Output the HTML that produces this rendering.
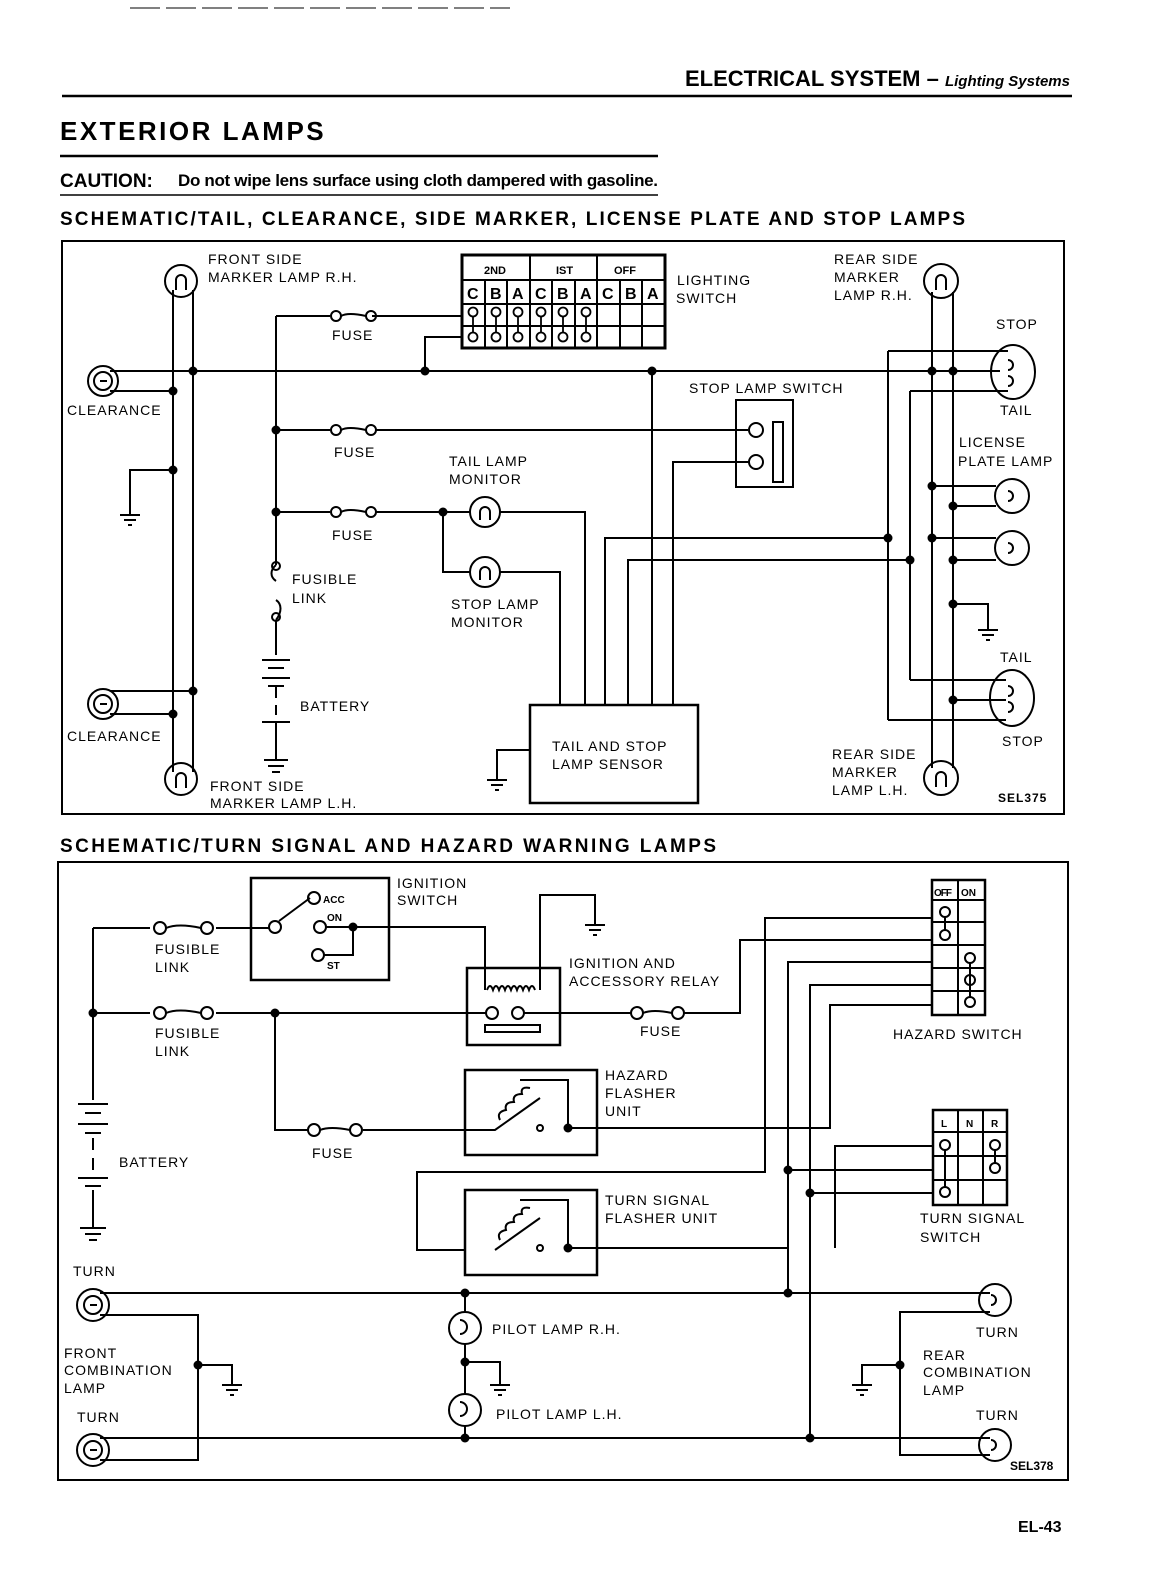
<!DOCTYPE html>
<html><head><meta charset="utf-8"><style>
html,body{margin:0;padding:0;background:#fff;}
svg{display:block;}
text{font-family:"Liberation Sans",sans-serif;fill:#000;}
.l{font-size:14px;letter-spacing:1px;}
</style></head><body>
<svg width="1162" height="1586" viewBox="0 0 1162 1586" xmlns="http://www.w3.org/2000/svg">
<g stroke="#000" fill="none" stroke-width="2">
<line x1="130" y1="8" x2="510" y2="8" stroke-width="1" stroke-dasharray="30,6"/>
<line x1="62" y1="96" x2="1072" y2="96" stroke-width="2.5"/>
<line x1="60" y1="156" x2="658" y2="156" stroke-width="2.5"/>
<line x1="60" y1="195" x2="658" y2="195" stroke-width="1.5"/>
<rect x="62" y="241" width="1002" height="573"/>
<rect x="58" y="862" width="1010" height="618"/>
</g>
<text x="1070" y="86" text-anchor="end" font-size="22" font-weight="bold" font-stretch="condensed">ELECTRICAL SYSTEM – <tspan font-size="15" font-style="italic" font-weight="bold">Lighting Systems</tspan></text>
<text x="60" y="140" font-size="26" font-weight="bold" letter-spacing="2.5">EXTERIOR LAMPS</text>
<text x="60" y="187" font-size="19" font-weight="bold">CAUTION:</text>
<text x="178" y="186" font-size="17" font-weight="bold" textLength="480">Do not wipe lens surface using cloth dampered with gasoline.</text>
<text x="60" y="225" font-size="19" font-weight="bold" textLength="905">SCHEMATIC/TAIL, CLEARANCE, SIDE MARKER, LICENSE PLATE AND STOP LAMPS</text>
<text x="60" y="852" font-size="19" font-weight="bold" textLength="656">SCHEMATIC/TURN SIGNAL AND HAZARD WARNING LAMPS</text>
<text x="1018" y="1532" font-size="16" font-weight="bold">EL-43</text>

<!-- TOP DIAGRAM -->
<g stroke="#000" fill="none" stroke-width="2">
<circle cx="181" cy="281" r="16"/><path d="M176 290 v-10 a5 5 0 0 1 10 0 v10"/>
<circle cx="181" cy="779" r="16"/><path d="M176 788 v-10 a5 5 0 0 1 10 0 v10"/>
<line x1="173" y1="290" x2="173" y2="772"/><line x1="193" y1="290" x2="193" y2="772"/>
<circle cx="103" cy="381" r="15"/><circle cx="103" cy="381" r="9"/><path d="M100 381 h7"/>
<path d="M110 371 H1000 M110 391 H173"/>
<circle cx="103" cy="704" r="15"/><circle cx="103" cy="704" r="9"/><path d="M100 704 h7"/>
<path d="M110 691 H193 M110 714 H173"/>
<path d="M173 470 H130 V515 M120 515 h20 M124 520 h12 M128 525 h4"/>
<path d="M276 316 V565 M276 620 V655"/>
<path d="M276 565 c-6 5 -6 12 0 16 M276 600 c6 4 6 12 0 20"/>
<circle cx="276" cy="566" r="4"/><circle cx="276" cy="617" r="4"/>
<path d="M262 660 h28 M268 668 h16 M262 678 h28 M268 686 h16 M276 686 v12 M276 705 v10 M262 722 h28 M276 722 V760 M264 760 h24 M268 766 h16 M272 772 h8"/>
<path d="M276 316 H330 M372 316 H462"/><circle cx="336" cy="316" r="5"/><circle cx="371" cy="316" r="5"/><path d="M341 316 q7-4 25 0"/>
<path d="M276 430 H330 M376 430 H748"/><circle cx="336" cy="430" r="5"/><circle cx="371" cy="430" r="5"/><path d="M341 430 q7-4 25 0"/>
<path d="M276 512 H330 M376 512 H470 M500 512 H585 V705"/><circle cx="336" cy="512" r="5"/><circle cx="371" cy="512" r="5"/><path d="M341 512 q7-4 25 0"/>
<circle cx="485" cy="512" r="15"/><path d="M480 520 v-8 a5 5 0 0 1 10 0 v8"/>
<path d="M443 512 V572 H470 M500 572 H560 V705"/>
<circle cx="485" cy="572" r="15"/><path d="M480 580 v-8 a5 5 0 0 1 10 0 v8"/>
<rect x="462" y="255" width="203" height="93" stroke-width="3"/>
<path d="M462 280 H665 M462 304 H665 M462 326 H665"/>
<path d="M530 255 V348 M597 255 V348 M485 280 V348 M507 280 V348 M552 280 V348 M575 280 V348 M620 280 V348 M642 280 V348"/>
<g stroke-width="1.8">
<circle cx="473" cy="312" r="4.5"/><circle cx="473" cy="337" r="4.5"/><path d="M473 316 V333"/>
<circle cx="496" cy="312" r="4.5"/><circle cx="496" cy="337" r="4.5"/><path d="M496 316 V333"/>
<circle cx="518" cy="312" r="4.5"/><circle cx="518" cy="337" r="4.5"/><path d="M518 316 V333"/>
<circle cx="541" cy="312" r="4.5"/><circle cx="541" cy="337" r="4.5"/><path d="M541 316 V333"/>
<circle cx="563" cy="312" r="4.5"/><circle cx="563" cy="337" r="4.5"/><path d="M563 316 V333"/>
<circle cx="586" cy="312" r="4.5"/><circle cx="586" cy="337" r="4.5"/><path d="M586 316 V333"/>
</g>
<path d="M462 337 H425 V371"/>
<rect x="736" y="400" width="57" height="87"/>
<circle cx="756" cy="430" r="7"/><circle cx="756" cy="462" r="7"/>
<rect x="773" y="422" width="10" height="60"/>
<path d="M749 462 H673 V705"/>
<path d="M652 371 V705 M605 705 V538 H888 M628 705 V560 H910"/>
<rect x="530" y="705" width="168" height="98" stroke-width="2.5"/>
<path d="M530 750 H497 V780 M487 780 h20 M491 785 h12 M495 790 h4"/>
<circle cx="941" cy="281" r="17"/><path d="M936 290 v-10 a5 5 0 0 1 10 0 v10"/>
<circle cx="941" cy="778" r="17"/><path d="M936 787 v-10 a5 5 0 0 1 10 0 v10"/>
<line x1="932" y1="292" x2="932" y2="768"/><line x1="953" y1="292" x2="953" y2="768"/>
<ellipse cx="1013" cy="372" rx="22" ry="27"/>
<path d="M888 351 H1008 M910 391 H1008 M888 351 V720 M910 391 V680"/>
<path d="M1008 360 a5 5 0 1 1 0 10 M1008 376 a5 5 0 1 1 0 10"/>
<circle cx="1012" cy="496" r="17"/><path d="M1008 491 a5 5 0 1 1 0 10"/>
<path d="M932 486 H996 M953 506 H996"/>
<circle cx="1012" cy="548" r="17"/><path d="M1008 543 a5 5 0 1 1 0 10"/>
<path d="M932 538 H996 M953 560 H996"/>
<path d="M953 604 H988 V630 M978 630 h20 M982 635 h12 M986 640 h4"/>
<ellipse cx="1012" cy="698" rx="22" ry="28"/>
<path d="M910 680 H1006 M953 700 H1006 M888 720 H1006"/>
<path d="M1008 686 a5 5 0 1 1 0 10 M1008 702 a5 5 0 1 1 0 10"/>
</g>
<g fill="#000">
<circle cx="193" cy="371" r="4.5"/><circle cx="173" cy="391" r="4.5"/><circle cx="173" cy="470" r="4.5"/>
<circle cx="193" cy="691" r="4.5"/><circle cx="173" cy="714" r="4.5"/>
<circle cx="276" cy="430" r="4.5"/><circle cx="276" cy="512" r="4.5"/><circle cx="443" cy="512" r="4.5"/>
<circle cx="425" cy="371" r="4.5"/><circle cx="652" cy="371" r="4.5"/>
<circle cx="932" cy="371" r="4.5"/><circle cx="953" cy="371" r="4.5"/>
<circle cx="932" cy="486" r="4.5"/><circle cx="953" cy="506" r="4.5"/>
<circle cx="932" cy="538" r="4.5"/><circle cx="953" cy="560" r="4.5"/>
<circle cx="888" cy="538" r="4.5"/><circle cx="910" cy="560" r="4.5"/>
<circle cx="953" cy="604" r="4.5"/><circle cx="953" cy="700" r="4.5"/>
</g>
<g class="l">
<text x="208" y="264">FRONT SIDE</text><text x="208" y="282">MARKER LAMP R.H.</text>
<text x="332" y="340">FUSE</text><text x="334" y="457">FUSE</text><text x="332" y="540">FUSE</text>
<text x="67" y="415">CLEARANCE</text><text x="67" y="741">CLEARANCE</text>
<text x="292" y="584">FUSIBLE</text><text x="292" y="603">LINK</text>
<text x="300" y="711">BATTERY</text>
<text x="210" y="791">FRONT SIDE</text><text x="210" y="808">MARKER LAMP L.H.</text>
<text x="449" y="466">TAIL LAMP</text><text x="449" y="484">MONITOR</text>
<text x="451" y="609">STOP LAMP</text><text x="451" y="627">MONITOR</text>
<text x="552" y="751">TAIL AND STOP</text><text x="552" y="769">LAMP SENSOR</text>
<text x="677" y="285">LIGHTING</text><text x="676" y="303">SWITCH</text>
<text x="689" y="393">STOP LAMP SWITCH</text>
<text x="834" y="264">REAR SIDE</text><text x="834" y="282">MARKER</text><text x="834" y="300">LAMP R.H.</text>
<text x="996" y="329">STOP</text><text x="1000" y="415">TAIL</text>
<text x="959" y="447">LICENSE</text><text x="958" y="466">PLATE LAMP</text>
<text x="1000" y="662">TAIL</text><text x="1002" y="746">STOP</text>
<text x="832" y="759">REAR SIDE</text><text x="832" y="777">MARKER</text><text x="832" y="795">LAMP L.H.</text>
<text x="998" y="802" font-size="12" font-weight="bold">SEL375</text>
</g>
<g font-weight="bold" font-size="11">
<text x="484" y="274">2ND</text><text x="556" y="274">IST</text><text x="614" y="274">OFF</text>
</g>
<g font-weight="bold" font-size="16">
<text x="467" y="299">C</text><text x="490" y="299">B</text><text x="512" y="299">A</text>
<text x="535" y="299">C</text><text x="557" y="299">B</text><text x="580" y="299">A</text>
<text x="602" y="299">C</text><text x="625" y="299">B</text><text x="647" y="299">A</text>
</g>

<!-- BOTTOM DIAGRAM -->
<g stroke="#000" fill="none" stroke-width="2">
<path d="M93 928 V1100 M93 1013 H150 M216 1013 H487"/>
<path d="M93 928 H150 M216 928 H270"/>
<circle cx="160" cy="928" r="6"/><circle cx="207" cy="928" r="6"/><path d="M166 928 q12-5 35 0"/>
<circle cx="160" cy="1013" r="6"/><circle cx="207" cy="1013" r="6"/><path d="M166 1013 q12-5 35 0"/>
<path d="M78 1104 h30 M85 1113 h16 M78 1124 h30 M85 1133 h16 M93 1138 v12 M93 1158 v12 M78 1178 h30 M85 1186 h16 M93 1190 V1228 M80 1228 h26 M85 1234 h16 M89 1240 h8"/>
<rect x="251" y="878" width="138" height="102" stroke-width="2.5"/>
<circle cx="275" cy="927" r="6"/><path d="M279 921 L310 898"/>
<circle cx="314" cy="898" r="6"/><circle cx="320" cy="927" r="6"/><circle cx="318" cy="955" r="6"/>
<path d="M326 927 H485 V968 M353 927 V955 H324"/>
<rect x="467" y="968" width="93" height="77" stroke-width="2.5"/>
<path d="M485 968 V990 M540 968 V990 M540 968 V895 H595 V925 M585 925 h20 M589 930 h12 M593 935 h4"/>
<path d="M487 990 q3-8 6 0 q3-8 6 0 q3-8 6 0 q3-8 6 0 q3-8 6 0 q3-8 6 0 q3-8 6 0 q3-8 6 0"/>
<circle cx="492" cy="1013" r="6"/><circle cx="518" cy="1013" r="6"/>
<rect x="485" y="1025" width="55" height="7"/>
<path d="M524 1013 H631 M684 1013 H740 V940 H932"/>
<circle cx="637" cy="1013" r="6"/><circle cx="678" cy="1013" r="6"/><path d="M643 1013 q10-4 29 0"/>
<rect x="932" y="880" width="53" height="135" stroke-width="2.5"/>
<path d="M932 900 H985 M932 922 H985 M932 945 H985 M932 968 H985 M932 991 H985 M958 880 V1015"/>
<circle cx="945" cy="912" r="5"/><circle cx="945" cy="935" r="5"/><path d="M945 917 V930"/>
<circle cx="970" cy="958" r="5"/><circle cx="970" cy="980" r="5"/><circle cx="970" cy="1002" r="5"/><path d="M970 963 V997"/>
<path d="M932 918 H765 V1172 H417 V1250 H465 M932 962 H788 V1293 M932 985 H810 V1438 M932 1005 H830 V1128 H568"/>
<rect x="465" y="1070" width="132" height="85" stroke-width="2.5"/>
<path d="M275 1013 V1130 H309 M363 1130 H495 L540 1098 M520 1080 H568 V1128"/>
<path d="M500 1120 q-4-8 6-10 q-2-8 8-8 q-2-8 8-8 q-2-8 8-6"/>
<circle cx="540" cy="1128" r="3"/>
<circle cx="314" cy="1130" r="6"/><circle cx="356" cy="1130" r="6"/><path d="M320 1130 q10-4 30 0"/>
<rect x="465" y="1190" width="132" height="85" stroke-width="2.5"/>
<path d="M495 1250 L540 1218 M520 1200 H568 V1248 H788"/>
<path d="M500 1240 q-4-8 6-10 q-2-8 8-8 q-2-8 8-8 q-2-8 8-6"/>
<circle cx="540" cy="1248" r="3"/>
<rect x="933" y="1110" width="74" height="95" stroke-width="2.5"/>
<path d="M933 1132 H1007 M933 1156 H1007 M933 1180 H1007 M958 1110 V1205 M983 1110 V1205"/>
<circle cx="945" cy="1145" r="5"/><circle cx="945" cy="1192" r="5"/><path d="M945 1150 V1187"/>
<circle cx="995" cy="1145" r="5"/><circle cx="995" cy="1168" r="5"/><path d="M995 1150 V1163"/>
<path d="M933 1146 H835 V1248 M933 1170 H788 M933 1193 H810"/>
<circle cx="93" cy="1305" r="16"/><circle cx="93" cy="1305" r="9"/><path d="M90 1305 h7"/>
<circle cx="93" cy="1450" r="16"/><circle cx="93" cy="1450" r="9"/><path d="M90 1450 h7"/>
<path d="M100 1293 H990 M100 1438 H990 M100 1315 H198 V1460 H100 M198 1365 H232 V1385 M222 1385 h20 M226 1390 h12 M230 1395 h4"/>
<circle cx="995" cy="1300" r="16"/><path d="M991 1295 a5 5 0 1 1 0 10"/>
<circle cx="995" cy="1445" r="16"/><path d="M991 1440 a5 5 0 1 1 0 10"/>
<path d="M990 1312 H900 V1455 H990 M900 1365 H862 V1385 M852 1385 h20 M856 1390 h12 M860 1395 h4"/>
<circle cx="465" cy="1328" r="16"/><circle cx="465" cy="1410" r="16"/>
<path d="M465 1293 V1312 M465 1344 V1394 M465 1426 V1438 M465 1362 H500 V1385 M490 1385 h20 M494 1390 h12 M498 1395 h4"/>
<path d="M460 1320 a5 5 0 1 1 0 14 M460 1402 a5 5 0 1 1 0 14"/>
</g>
<g fill="#000">
<circle cx="93" cy="1013" r="4.5"/><circle cx="275" cy="1013" r="4.5"/><circle cx="353" cy="927" r="4.5"/>
<circle cx="568" cy="1128" r="4.5"/><circle cx="568" cy="1248" r="4.5"/>
<circle cx="788" cy="1170" r="4.5"/><circle cx="810" cy="1193" r="4.5"/>
<circle cx="788" cy="1293" r="4.5"/><circle cx="810" cy="1438" r="4.5"/>
<circle cx="465" cy="1293" r="4.5"/><circle cx="465" cy="1438" r="4.5"/><circle cx="465" cy="1362" r="4.5"/>
<circle cx="198" cy="1365" r="4.5"/><circle cx="900" cy="1365" r="4.5"/>
</g>
<g class="l">
<text x="397" y="888">IGNITION</text><text x="397" y="905">SWITCH</text>
<text x="155" y="954">FUSIBLE</text><text x="155" y="972">LINK</text>
<text x="155" y="1038">FUSIBLE</text><text x="155" y="1056">LINK</text>
<text x="569" y="968">IGNITION AND</text><text x="569" y="986">ACCESSORY RELAY</text>
<text x="640" y="1036">FUSE</text>
<text x="893" y="1039">HAZARD SWITCH</text>
<text x="605" y="1080">HAZARD</text><text x="605" y="1098">FLASHER</text><text x="605" y="1116">UNIT</text>
<text x="312" y="1158">FUSE</text>
<text x="119" y="1167">BATTERY</text>
<text x="605" y="1205">TURN SIGNAL</text><text x="605" y="1223">FLASHER UNIT</text>
<text x="920" y="1223">TURN SIGNAL</text><text x="920" y="1242">SWITCH</text>
<text x="73" y="1276">TURN</text>
<text x="492" y="1334">PILOT LAMP R.H.</text><text x="496" y="1419">PILOT LAMP L.H.</text>
<text x="64" y="1358">FRONT</text><text x="64" y="1375">COMBINATION</text><text x="64" y="1393">LAMP</text>
<text x="77" y="1422">TURN</text>
<text x="976" y="1337">TURN</text>
<text x="923" y="1360">REAR</text><text x="923" y="1377">COMBINATION</text><text x="923" y="1395">LAMP</text>
<text x="976" y="1420">TURN</text>
<text x="1010" y="1470" font-size="12" font-weight="bold" letter-spacing="0">SEL378</text>
</g>
<g font-size="10" font-weight="bold">
<text x="323" y="903">ACC</text><text x="327" y="921">ON</text><text x="327" y="969">ST</text>
<text x="934" y="896" letter-spacing="-1">OFF</text><text x="961" y="896">ON</text>
<text x="941" y="1127">L</text><text x="966" y="1127">N</text><text x="991" y="1127">R</text>
</g>
</svg>
</body></html>
